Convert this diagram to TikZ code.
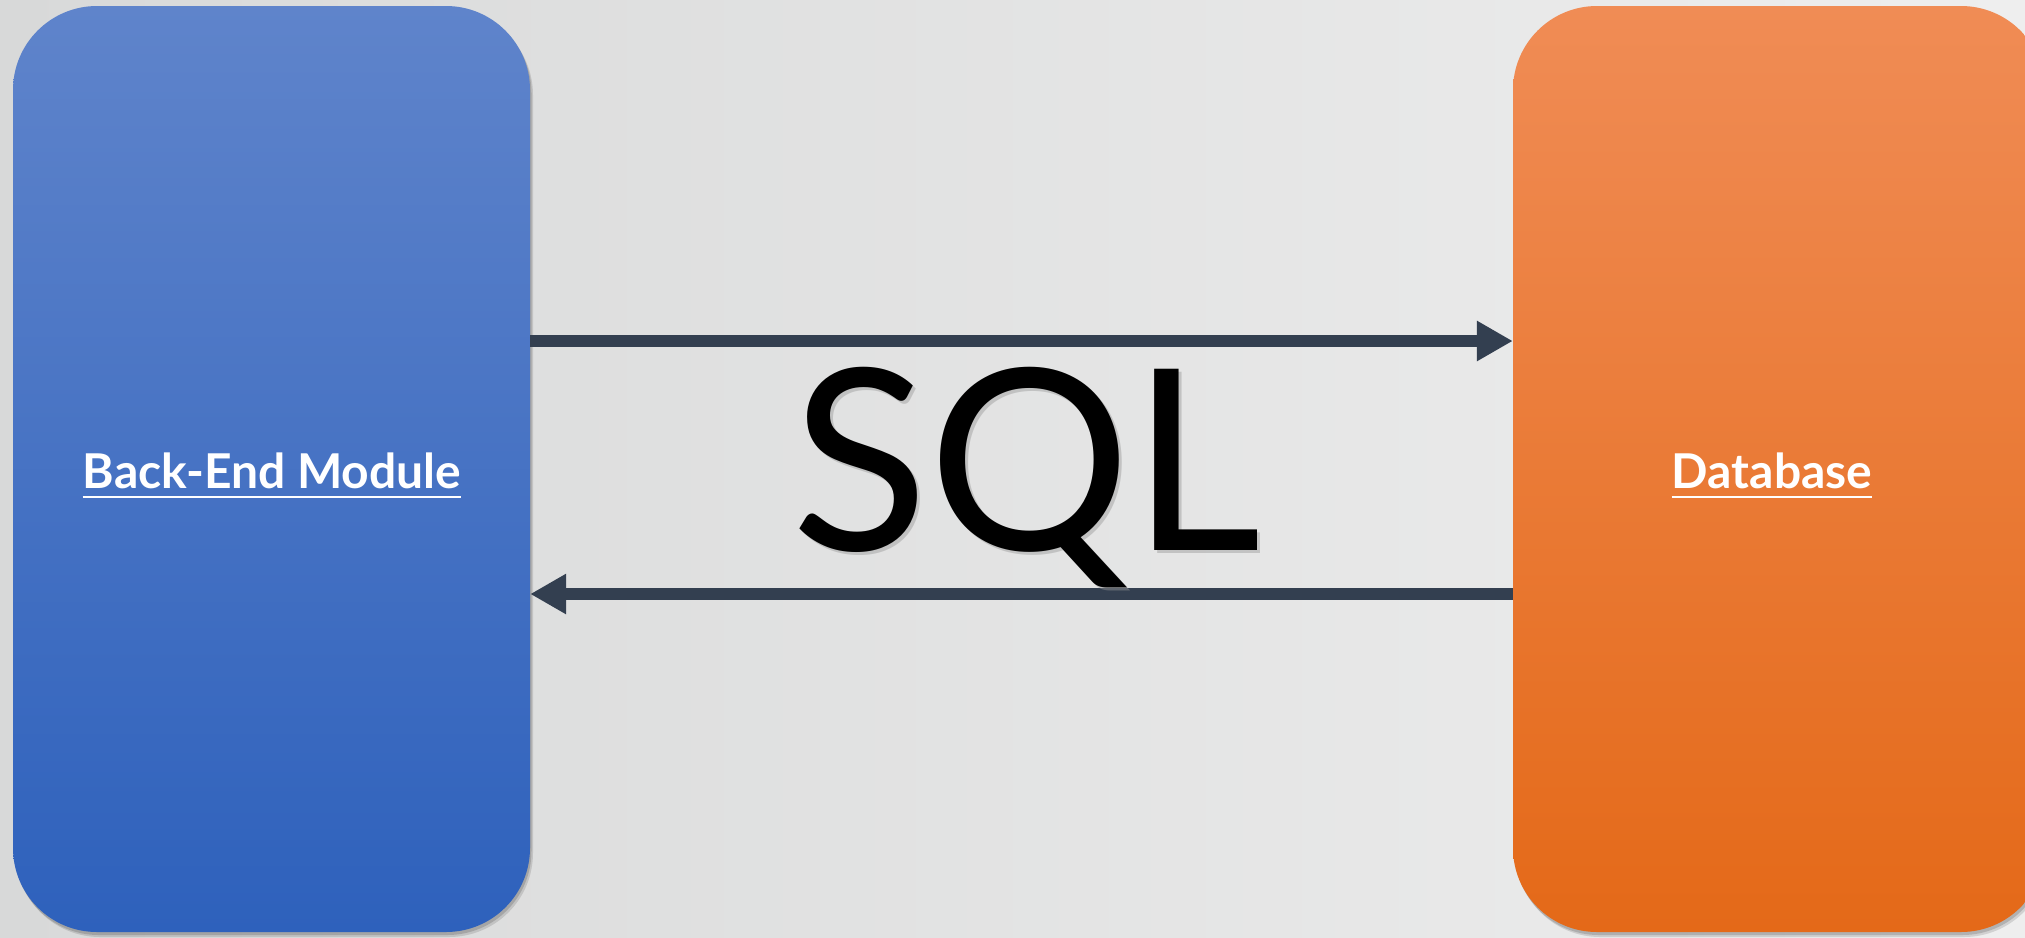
\documentclass[tikz,border=0pt]{standalone}
\usepackage{fontspec}
\setmainfont{Lato}
\usetikzlibrary{arrows.meta}
\definecolor{bgL}{HTML}{D8D9D9}
\definecolor{bgR}{HTML}{EEEEEE}
\definecolor{blueT}{HTML}{5F84CB}
\definecolor{blueB}{HTML}{2E61BC}
\definecolor{orT}{HTML}{F08C55}
\definecolor{orB}{HTML}{E46918}
\definecolor{arrc}{HTML}{333F50}
\tikzset{
  panel/.style={rectangle, rounded corners=84pt, minimum width=517pt, minimum height=926pt, inner sep=0pt},
  widepanel/.style={panel, minimum width=532pt},
  bluepanel/.style={panel, top color=blueT, bottom color=blueB},
  orpanel/.style={widepanel, top color=orT, bottom color=orB},
  shadowpanel/.style={panel, fill=black, fill opacity=0.18},
  lbl/.style={text=white, font=\fontsize{48}{56}\selectfont\bfseries, inner sep=0pt, anchor=base},
  uline/.style={white, line width=2.8pt},
  arr/.style={draw=arrc, line width=12.5pt, -{Triangle[length=36pt,width=38pt]}},
  sqltext/.style={font=\fontsize{253}{300}\selectfont, inner sep=0pt, anchor=base}
}
\begin{document}
\begin{tikzpicture}[x=1pt,y=-1pt]
  \useasboundingbox (0,0) rectangle (2025,937);
  \fill[left color=bgL, right color=bgR] (0,0) rectangle (2025,937);
  % shadows
  \node[shadowpanel, fill opacity=0.12] (bes2) at (274.5,474) {};
  \node[shadowpanel, widepanel, fill opacity=0.12] (dbs2) at (1782,474) {};
  \node[shadowpanel, fill opacity=0.15] (bes1) at (273,472) {};
  \node[shadowpanel, widepanel, fill opacity=0.15] (dbs1) at (1780.5,472) {};
  % panels
  \node[bluepanel] (be) at (271.5,469) {};
  \node[orpanel] (db) at (1779,469) {};
  % labels
  \node[lbl] (bel) at (272,488) {Back-End Module};
  \draw[uline] ([yshift=-9pt]bel.base west) -- ([yshift=-9pt]bel.base east);
  \node[lbl] (dbl) at (1772,488) {Database};
  \draw[uline] ([yshift=-9pt]dbl.base west) -- ([yshift=-9pt]dbl.base east);
  % arrows
  \draw[arr] ([yshift=128pt]be.east) -- ([yshift=128pt]db.west);
  \draw[arr] ([yshift=-125pt]db.west) -- ([yshift=-125pt]be.east);
  % SQL
  \node[sqltext, text=black!40, opacity=0.45] (sqls) at (1029,553) {SQL};
  \node[sqltext] (sql) at (1026,550) {SQL};
\end{tikzpicture}
\end{document}
